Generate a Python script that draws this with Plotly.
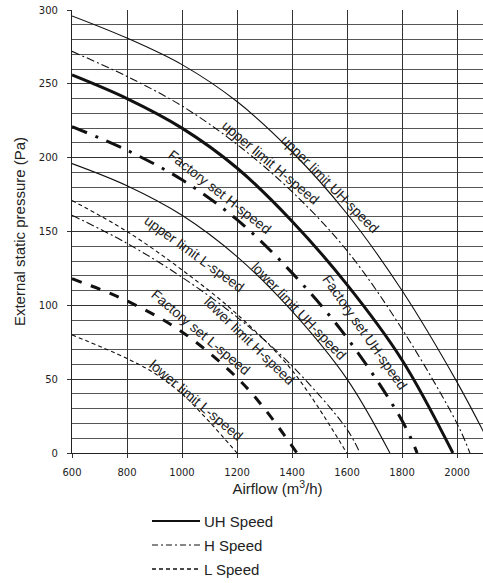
import plotly.graph_objects as go

# ---- data ----
upper_uh_x = [600, 800, 1000, 1200, 1400, 1600, 1800, 2000, 2100]
upper_uh_y = [296, 281, 263, 238, 204, 162, 110, 48, 13]

upper_h_x = [600, 800, 1000, 1200, 1400, 1600, 1800, 2000, 2047]
upper_h_y = [272, 255, 235, 209, 177, 137, 84, 20, 0]

factory_uh_x = [600, 800, 1000, 1200, 1400, 1600, 1800, 1985]
factory_uh_y = [256, 240, 220, 193, 157, 114, 63, 0]

factory_h_x = [600, 800, 1000, 1200, 1400, 1600, 1800, 1855]
factory_h_y = [221, 205, 185, 158, 122, 78, 22, 0]

lower_uh_x = [600, 800, 1000, 1200, 1400, 1600, 1756]
lower_uh_y = [196, 181, 161, 133, 96, 50, 0]

upper_l_x = [600, 800, 1000, 1200, 1400, 1599]
upper_l_y = [171, 150, 124, 94, 56, 0]

lower_h_x = [600, 800, 1000, 1200, 1400, 1600, 1647]
lower_h_y = [161, 142, 119, 92, 59, 16, 0]

factory_l_x = [600, 800, 1000, 1200, 1300, 1418]
factory_l_y = [118, 103, 82, 51, 30, 0]

lower_l_x = [600, 800, 900, 1000, 1100, 1200]
lower_l_y = [80, 64, 54, 40, 21, 0]

x_ticks = [600, 800, 1000, 1200, 1400, 1600, 1800, 2000]
y_ticks = [0, 50, 100, 150, 200, 250, 300]

legend_names = ["UH Speed", "H Speed", "L Speed"]

# curve labels: text, x, y (data coords), angle
label_text = ["upper limit UH-speed", "upper limit H-speed", "Factory set H-speed",
              "Factory set UH-speed", "lower limit UH-speed", "upper limit L-speed",
              "lower limit H-speed", "Factory set L-speed", "lower limit L-speed"]
label_x = [1538, 1320, 1138, 1665, 1425, 1047, 1247, 1068, 1051]
label_y = [182, 197, 177, 82, 96, 135, 76, 82, 36]
label_angle = [45, 40, 38, 55, 46, 36, 44, 40, 40]

# ---- styles ----
SOLID = "solid"
HDASH = "8px,3px,2px,3px"
LDASH = "4px,3px"
FH_DASH = "16px,9px,3px,9px"
FL_DASH = "10px,10px"
INK = "#111111"

W, H = 483, 583
ML, MR, MT, MB = 72, 0, 10, 130
PW, PH = W - ML - MR, H - MT - MB

curves = [
    (upper_uh_x, upper_uh_y, SOLID, 1.1),
    (upper_h_x, upper_h_y, HDASH, 1.1),
    (factory_uh_x, factory_uh_y, SOLID, 3),
    (factory_h_x, factory_h_y, FH_DASH, 3),
    (lower_uh_x, lower_uh_y, SOLID, 1.1),
    (upper_l_x, upper_l_y, LDASH, 1.1),
    (lower_h_x, lower_h_y, HDASH, 1.1),
    (factory_l_x, factory_l_y, FL_DASH, 3),
    (lower_l_x, lower_l_y, LDASH, 1.1),
]

fig = go.Figure()
for xs, ys, dash, w in curves:
    fig.add_trace(go.Scatter(x=xs, y=ys, mode="lines", showlegend=False,
                             line=dict(color=INK, width=w, dash=dash, shape="spline",
                                       smoothing=1.0),
                             hoverinfo="skip"))

for t, x, y, a in zip(label_text, label_x, label_y, label_angle):
    fig.add_annotation(x=x, y=y, text=t, textangle=a, showarrow=False,
                       font=dict(family="Liberation Sans, Arial", size=14, color="#222"),
                       xanchor="center", yanchor="middle")

# legend drawn below the plot (line sample + label per speed)
legend_dash = [SOLID, "6px,3px,2px,3px", "4px,3px"]
legend_w = [2, 1.2, 1.6]
legend_row_px = [521, 545, 569]
for name, d, w, ry in zip(legend_names, legend_dash, legend_w, legend_row_px):
    yp = (H - MB - ry) / PH
    fig.add_shape(type="line", xref="paper", yref="paper",
                  x0=(152 - ML) / PW, x1=(200 - ML) / PW, y0=yp, y1=yp,
                  line=dict(color=INK, width=w, dash=d))
    fig.add_annotation(xref="paper", yref="paper", x=(202 - ML) / PW, y=yp,
                       text=name, showarrow=False, xanchor="left", yanchor="middle",
                       font=dict(family="Liberation Sans, Arial", size=15, color="#222"))

fig.update_layout(
    width=W, height=H,
    margin=dict(l=ML, r=MR, t=MT, b=MB, autoexpand=False),
    paper_bgcolor="white", plot_bgcolor="white",
    showlegend=False,
    font=dict(family="Liberation Sans, Arial", color="#222"),
    xaxis=dict(range=[600, 2094.5], tickvals=x_ticks, ticks="outside", ticklen=4,
               tickcolor="#333", showline=True, linecolor="#222", linewidth=1.2,
               showgrid=True, gridcolor="#333", gridwidth=1, zeroline=False,
               automargin=False, ticklabelstandoff=6,
               tickfont=dict(family="DejaVu Sans", size=10, color="#222"),
               title=dict(text="Airflow (m<sup>3</sup>/h)", standoff=4,
                          font=dict(family="Liberation Sans, Arial", size=15, color="#222"))),
    yaxis=dict(range=[0, 300], tickvals=y_ticks, ticks="outside", ticklen=4,
               tickcolor="#333", showline=True, linecolor="#222", linewidth=1.2,
               showgrid=True, gridcolor="#333", gridwidth=1, zeroline=False,
               automargin=False, ticklabelstandoff=7,
               minor=dict(dtick=10, showgrid=True, gridcolor="#555", gridwidth=1),
               tickfont=dict(family="DejaVu Sans", size=10, color="#222"),
               title=dict(text="External static pressure (Pa)", standoff=9,
                          font=dict(family="Liberation Sans, Arial", size=15, color="#222"))),
)

fig.write_html("out.html", config={"displayModeBar": False},
               post_script="document.body.style.margin='0';")
